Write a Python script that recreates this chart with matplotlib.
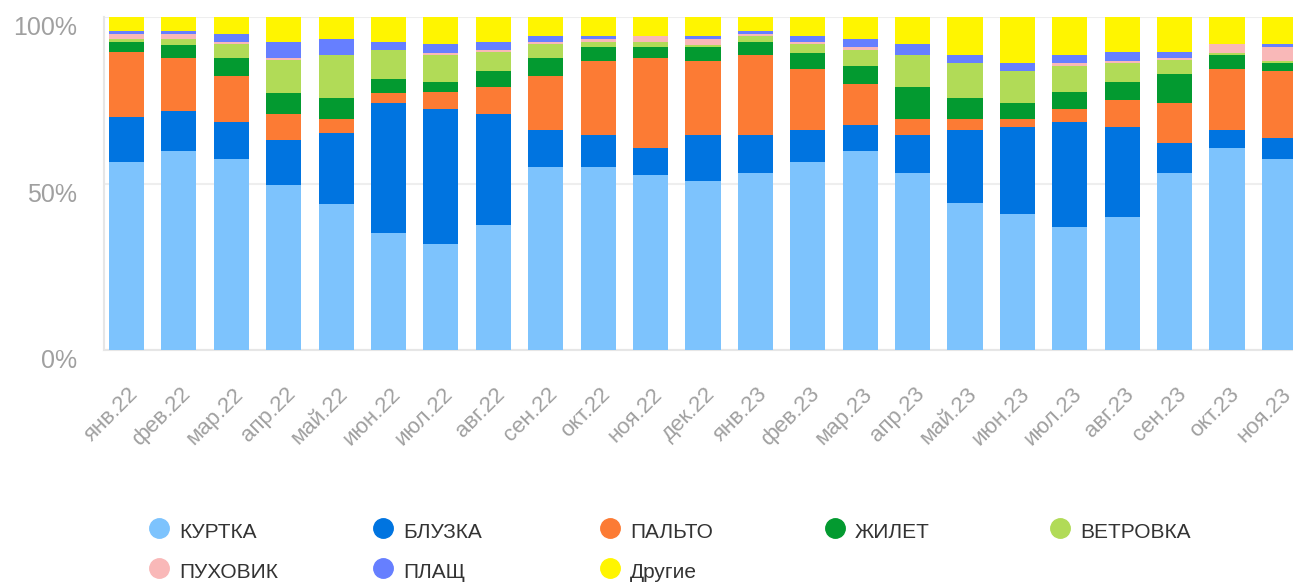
import matplotlib.pyplot as plt
import numpy as np
from matplotlib.lines import Line2D
from matplotlib.transforms import ScaledTranslation

months = ["янв.22", "фев.22", "мар.22", "апр.22", "май.22", "июн.22", "июл.22", "авг.22",
          "сен.22", "окт.22", "ноя.22", "дек.22", "янв.23", "фев.23", "мар.23", "апр.23",
          "май.23", "июн.23", "июл.23", "авг.23", "сен.23", "окт.23", "ноя.23"]

# доли, %
kurtka   = [56.5, 59.8, 57.4, 49.4, 43.7, 35.0, 31.7, 37.4, 55.0, 55.0, 52.6, 50.8,
            53.2, 56.5, 59.8, 53.2, 44.0, 40.7, 36.8, 39.8, 53.2, 60.7, 57.4]
bluzka   = [13.5, 12.1, 11.1, 13.7, 21.5, 39.2, 40.7, 33.5, 11.1, 9.6, 8.1, 13.8,
            11.4, 9.6, 7.8, 11.4, 22.1, 26.3, 31.7, 27.2, 9.0, 5.4, 6.3]
palto    = [19.4, 15.7, 13.8, 7.8, 4.2, 3.0, 5.1, 8.1, 16.2, 22.1, 26.9, 22.1,
            23.9, 18.2, 12.3, 4.8, 3.3, 2.4, 3.9, 8.1, 12.0, 18.2, 20.0]
zhilet   = [3.0, 3.9, 5.3, 6.3, 6.3, 4.2, 3.0, 4.7, 5.3, 4.2, 3.3, 4.2,
            3.9, 4.8, 5.3, 9.6, 6.3, 4.8, 5.1, 5.4, 8.7, 4.2, 2.4]
vetrovka = [1.0, 1.8, 4.2, 9.8, 12.8, 8.6, 8.0, 5.7, 4.2, 1.5, 1.5, 0.6,
            1.8, 2.7, 4.8, 9.5, 10.4, 9.5, 7.7, 5.6, 4.1, 0.6, 0.6]
puhovik  = [1.4, 1.5, 0.6, 0.6, 0.0, 0.0, 0.6, 0.6, 0.6, 0.9, 1.8, 1.8,
            0.6, 0.6, 0.9, 0.0, 0.0, 0.0, 0.9, 0.6, 0.6, 2.7, 4.2]
plashch  = [0.9, 0.9, 2.4, 4.8, 4.8, 2.4, 2.7, 2.4, 1.8, 0.9, 0.0, 0.9,
            0.9, 1.8, 2.4, 3.3, 2.4, 2.4, 2.4, 2.7, 1.8, 0.0, 0.9]
drugie   = [4.3, 4.3, 5.2, 7.6, 6.7, 7.6, 8.2, 7.6, 5.8, 5.8, 5.8, 5.8,
            4.3, 5.8, 6.7, 8.2, 11.5, 13.9, 11.5, 10.6, 10.6, 8.2, 8.2]

series_names = ["КУРТКА", "БЛУЗКА", "ПАЛЬТО", "ЖИЛЕТ", "ВЕТРОВКА", "ПУХОВИК", "ПЛАЩ", "Другие"]
series_values = [kurtka, bluzka, palto, zhilet, vetrovka, puhovik, plashch, drugie]
colors = ["#7DC3FD", "#0074E0", "#FC7B34", "#039A30", "#B1DB57", "#F9B8B8", "#667FFF", "#FFF500"]

plt.rcParams['font.family'] = ['Liberation Sans', 'DejaVu Sans']

fig = plt.figure(figsize=(12.93, 5.84), dpi=100)
ax = fig.add_axes([104 / 1293, 1 - 350 / 584, (1293 - 104) / 1293, 333 / 584])

data = np.array(series_values)
data = data / data.sum(axis=0) * 100
x = np.arange(len(months))
bottom = np.zeros(len(months))
for vals, c in zip(data, colors):
    ax.bar(x, vals, bottom=bottom, width=0.67, color=c, zorder=3)
    bottom += vals

ax.set_xlim(-0.43, 22.26)
ax.set_ylim(0, 100)

ax.set_yticks([0, 50, 100])
ax.set_yticklabels(["0%", "50%", "100%"])
ax.yaxis.grid(True, color="#EEEEEE", linewidth=1.5, zorder=0)
ax.tick_params(axis='y', length=0, pad=19.5, labelsize=18, labelcolor="#A0A0A0")
for lbl in ax.get_yticklabels():
    lbl.set_verticalalignment('center')
    lbl.set_transform(lbl.get_transform() + ScaledTranslation(0, -0.11, fig.dpi_scale_trans))

ax.set_xticks(x)
ax.set_xticklabels(months, rotation=45, ha='right', va='center', rotation_mode='anchor')
ax.tick_params(axis='x', length=0, pad=0, labelsize=16, labelcolor="#A0A0A0")
for lbl in ax.get_xticklabels():
    lbl.set_transform(lbl.get_transform() + ScaledTranslation(0.09, -0.41, fig.dpi_scale_trans))

for s in ["top", "right"]:
    ax.spines[s].set_visible(False)
for s in ["left", "bottom"]:
    ax.spines[s].set_color("#E6E6E6")
    ax.spines[s].set_linewidth(1.5)

# легенда
col_x = [159, 383, 610, 835, 1060]
row_y = [532, 572]
for i, (name, c) in enumerate(zip(series_names, colors)):
    cx = col_x[i % 5]
    cy = row_y[i // 5]
    fig.add_artist(Line2D([cx / 1293], [1 - (cy - 4) / 584], marker='o', markersize=14,
                          color=c, linestyle='none', transform=fig.transFigure))
    fig.text((cx + 20) / 1293, 1 - cy / 584, name, fontsize=15, color="#333333",
             ha='left', va='center')

fig.savefig("out.png", dpi=100)
